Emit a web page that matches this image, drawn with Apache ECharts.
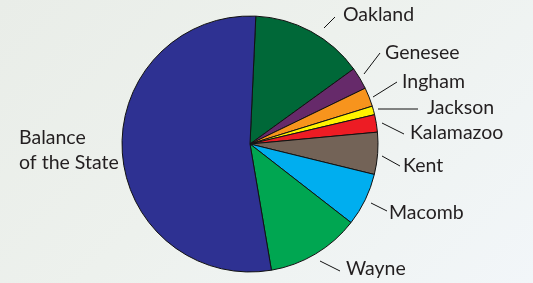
<!DOCTYPE html>
<html>
<head>
<meta charset="utf-8">
<script src="https://cdn.jsdelivr.net/npm/echarts@6/dist/echarts.min.js"></script>
<style>
html,body{margin:0;padding:0;}
#c{width:533px;height:283px;background:linear-gradient(135deg,#e9ede8 0%,#edf1ed 45%,#f2f6f9 100%);}
</style>
</head>
<body>
<div id="c"></div>
<script>
var categories = ['Oakland','Genesee','Ingham','Jackson','Kalamazoo','Kent','Macomb','Wayne','Balance\nof the State'];
var shares = [14.3, 2.8, 2.4, 1.1, 2.2, 5.3, 6.7, 11.8, 53.4];
var colors = ['#006838','#662a6a','#f7941d','#fff200','#ed1c24','#736357','#00aeef','#00a651','#2e3192'];

// label placement: [lineStartX, lineStartY, lineEndX, lineEndY, textX, textY]
var labelPlace = [
  [324,28,335,17,343,15],
  [364,74,380,53,385,53],
  [373,97,397,82,402,82],
  [378,109,418,109,427,108],
  [382,123,404,134,410,133],
  [382,156,400,166,403,166],
  [371,203,387,211,389,213],
  [320,261,340,271,346,269],
  [null,null,null,null,19,150]
];

var chart = echarts.init(document.getElementById('c'), null, {renderer:'canvas'});
var data = categories.map(function(n,i){
  return {
    name: n, value: shares[i],
    itemStyle: {color: colors[i]},
    labelLine: {show: labelPlace[i][0] !== null}
  };
});
chart.setOption({
  animation: false,
  series: [{
    type: 'pie',
    center: [250,144],
    radius: [0,128],
    startAngle: 87.4,
    clockwise: true,
    avoidLabelOverlap: false,
    itemStyle: {borderColor:'#111', borderWidth:1},
    label: {
      show: true, position: 'outside', formatter: '{b}',
      fontFamily: 'Lato', fontSize: 19.5, color: '#231f20', lineHeight: 25
    },
    labelLine: {show: true, length: 10, length2: 10, lineStyle:{color:'#111', width:1}},
    labelLayout: function(p){
      var lp = labelPlace[p.dataIndex];
      var o = {x: lp[4], y: lp[5], align: 'left', verticalAlign: 'middle'};
      if (lp[0] !== null) {
        o.labelLinePoints = [[lp[0],lp[1]],[lp[2],lp[3]],[lp[2],lp[3]]];
      }
      return o;
    },
    data: data
  }]
});
</script>
</body>
</html>
